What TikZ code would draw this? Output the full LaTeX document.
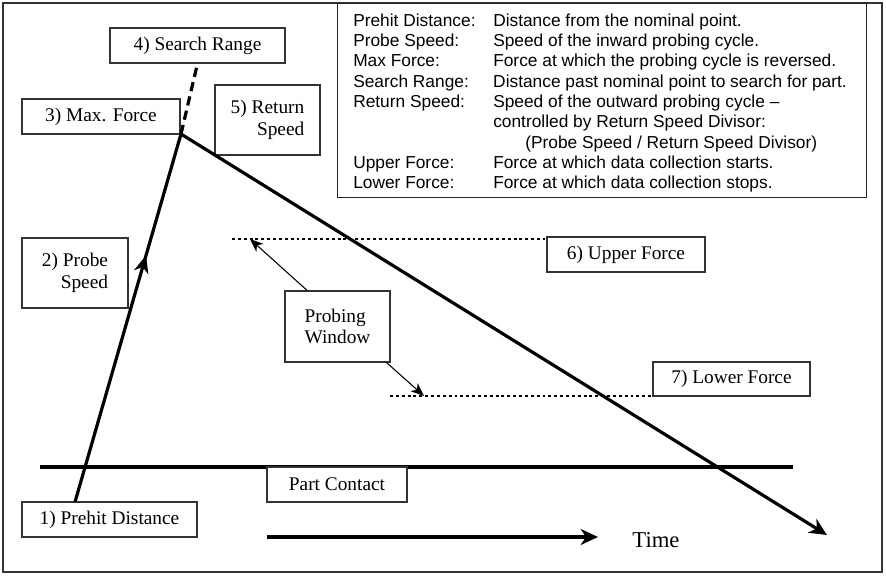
\documentclass[tikz,border=0pt]{standalone}
\usepackage{fontspec}
\setmainfont{Liberation Serif}
\newfontfamily\legendfont{Liberation Sans}
\usetikzlibrary{arrows.meta, decorations.markings}

\begin{document}
\begin{tikzpicture}[
    x=0.75pt, y=-0.75pt,
    box/.style={draw=black!80, line width=0.8pt, fill=white, inner sep=2pt, font=\fontsize{14.5}{16}\selectfont},
    trace/.style={line width=2.4pt},
    level/.style={line width=2.2pt, dash pattern=on 2.2pt off 2.2pt},
    pointer/.style={-{Stealth[length=10pt, width=8pt, inset=3pt]}, line width=0.8pt},
    bigtip/.style={-{Stealth[length=13pt, width=12pt, inset=4pt]}}
]
    \useasboundingbox (0,0) rectangle (886,577);
    % Frame
    \draw[black!80, line width=1pt] (3,3) rectangle (882,572);

    % Legend
    \node[draw=black!85, line width=1pt, anchor=north west, minimum width=396.75pt, minimum height=145.5pt] (legend) at (337,3) {};
    \node[anchor=north west, inner sep=0pt, font=\legendfont\fontsize{13}{15.2}\selectfont] (legendtext) at (353,12) {%
        \begin{tabular}{@{}p{105pt}@{}l@{}}
        Prehit Distance: & Distance from the nominal point.\\
        Probe Speed: & Speed of the inward probing cycle.\\
        Max Force: & Force at which the probing cycle is reversed.\\
        Search Range: & Distance past nominal point to search for part.\\
        Return Speed: & Speed of the outward probing cycle \textendash\\
         & controlled by Return Speed Divisor:\\
         & \hspace{24pt}(Probe Speed / Return Speed Divisor)\\
        Upper Force: & Force at which data collection starts.\\
        Lower Force: & Force at which data collection stops.
        \end{tabular}};

    % Force levels
    \draw[level] (232,239) -- (545,239);
    \draw[level] (390,396) -- (789,396);
    \draw[trace] (40,467) -- (793,467);

    % Labels
    \node[box, minimum width=131.25pt, minimum height=26.25pt] (search) at (197.5,45.5) {4) Search Range};
    \node[box, minimum width=118.5pt, minimum height=26.25pt] (maxforce) at (101,116.5) {3) Max. Force};
    \node[box, minimum width=78.75pt, minimum height=52.5pt, align=right] (retspeed) at (267.5,120) {5) Return\\Speed};
    \node[box, minimum width=79.5pt, minimum height=52.5pt, align=right] (probespeed) at (75,273) {2) Probe\\Speed};
    \node[box, minimum width=131.25pt, minimum height=26.25pt] (prehit) at (109.5,519.5) {1) Prehit Distance};
    \node[box, minimum width=105pt, minimum height=26.25pt] (contact) at (337,484.5) {Part Contact};
    \node[box, minimum width=118.5pt, minimum height=26.25pt] (upper) at (626,254.5) {6) Upper Force};
    \node[box, minimum width=117.75pt, minimum height=25.5pt] (lower) at (731.5,379) {7) Lower Force};
    \node[box, minimum width=78.75pt, minimum height=53.25pt, align=left] (window) at (337.5,326.5) {Probing\\Window};
    \node[font=\fontsize{17}{19}\selectfont] (time) at (656,540) {Time};

    % Probe path
    \coordinate (start) at (75,502);
    \coordinate (peak) at (181,134);
    \coordinate (stop) at (827,535);
    \coordinate (upwin) at (250,239);
    \coordinate (lowwin) at (424,396);
    \coordinate (timefrom) at (267,537);
    \coordinate (timeto) at (598,537);
    \draw[trace, postaction={decorate}, decoration={markings,
        mark=at position 0.67 with {\arrow{Stealth[length=13pt, width=11pt, inset=4pt]}}}] (start) -- (peak);
    \draw[trace, dash pattern=on 7pt off 4pt] (peak) -- (search.south);
    \draw[trace, bigtip] (peak) -- (stop);

    % Probing window
    \draw[pointer] ([xshift=17pt]window.north west) -- (upwin);
    \draw[pointer] ([xshift=-3pt]window.south east) -- (lowwin);

    % Time axis
    \draw[trace, bigtip] (timefrom) -- (timeto);
\end{tikzpicture}
\end{document}
